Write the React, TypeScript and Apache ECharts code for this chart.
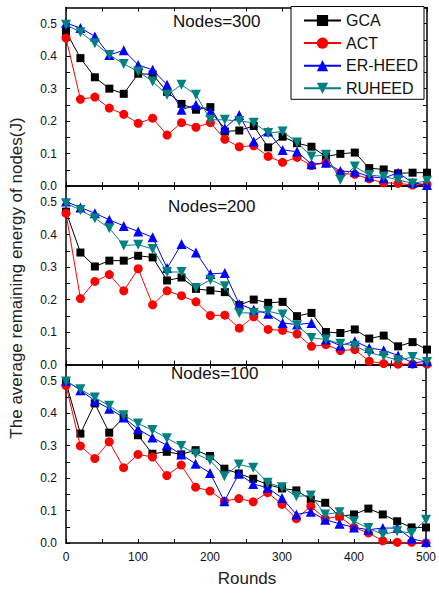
import React, { useEffect, useRef } from "react";
import * as echarts from "echarts";

// Simulation rounds (x axis)
const rounds = [0, 20, 40, 60, 80, 100, 120, 140, 160, 180, 200, 220, 240, 260, 280, 300, 320, 340, 360, 380, 400, 420, 440, 460, 480, 500];

const protocols = ["GCA", "ACT", "ER-HEED", "RUHEED"];
const panelTitles = ["Nodes=300", "Nodes=200", "Nodes=100"];

// Average remaining energy (J), Nodes=300
const gca300 = [0.476, 0.394, 0.335, 0.300, 0.284, 0.346, 0.344, 0.290, 0.253, 0.235, 0.243, 0.168, 0.171, 0.185, 0.119, 0.152, 0.132, 0.121, 0.091, 0.099, 0.103, 0.055, 0.051, 0.039, 0.041, 0.041];
const act300 = [0.456, 0.267, 0.274, 0.240, 0.221, 0.193, 0.209, 0.157, 0.195, 0.181, 0.195, 0.144, 0.121, 0.124, 0.091, 0.073, 0.088, 0.063, 0.072, 0.039, 0.036, 0.022, 0.010, 0.008, 0.003, 0.005];
const er300 = [0.502, 0.487, 0.461, 0.404, 0.418, 0.373, 0.358, 0.312, 0.235, 0.250, 0.229, 0.178, 0.219, 0.137, 0.168, 0.111, 0.106, 0.067, 0.072, 0.046, 0.044, 0.029, 0.024, 0.041, 0.010, 0.003];
const ru300 = [0.497, 0.474, 0.440, 0.404, 0.376, 0.353, 0.322, 0.281, 0.312, 0.281, 0.204, 0.204, 0.200, 0.195, 0.163, 0.168, 0.134, 0.091, 0.096, 0.019, 0.060, 0.034, 0.029, 0.019, 0.008, 0.016];

// Average remaining energy (J), Nodes=200
const gca200 = [0.471, 0.345, 0.302, 0.320, 0.320, 0.335, 0.330, 0.259, 0.268, 0.233, 0.228, 0.223, 0.183, 0.200, 0.190, 0.193, 0.149, 0.159, 0.100, 0.097, 0.108, 0.080, 0.089, 0.056, 0.069, 0.046];
const act200 = [0.466, 0.203, 0.256, 0.277, 0.227, 0.295, 0.184, 0.227, 0.212, 0.193, 0.151, 0.152, 0.112, 0.147, 0.108, 0.105, 0.094, 0.056, 0.061, 0.043, 0.046, 0.010, 0.003, 0.001, 0.001, 0.001];
const er200 = [0.502, 0.484, 0.466, 0.446, 0.427, 0.410, 0.392, 0.297, 0.371, 0.345, 0.279, 0.282, 0.186, 0.169, 0.156, 0.128, 0.123, 0.128, 0.077, 0.058, 0.072, 0.051, 0.044, 0.028, 0.005, 0.010];
const ru200 = [0.497, 0.476, 0.451, 0.420, 0.367, 0.369, 0.356, 0.285, 0.285, 0.236, 0.261, 0.241, 0.159, 0.159, 0.164, 0.154, 0.121, 0.082, 0.077, 0.064, 0.058, 0.036, 0.026, 0.013, 0.023, 0.008];

// Average remaining energy (J), Nodes=100
const gca100 = [0.495, 0.337, 0.430, 0.340, 0.387, 0.332, 0.275, 0.281, 0.273, 0.286, 0.268, 0.229, 0.214, 0.198, 0.180, 0.168, 0.162, 0.134, 0.124, 0.082, 0.088, 0.106, 0.088, 0.067, 0.048, 0.048];
const act100 = [0.485, 0.299, 0.260, 0.312, 0.232, 0.273, 0.265, 0.208, 0.240, 0.172, 0.160, 0.129, 0.137, 0.127, 0.155, 0.119, 0.075, 0.113, 0.075, 0.082, 0.048, 0.031, 0.007, 0.002, 0.002, 0.000];
const er100 = [0.500, 0.471, 0.438, 0.414, 0.387, 0.351, 0.325, 0.301, 0.273, 0.244, 0.216, 0.129, 0.213, 0.182, 0.170, 0.139, 0.088, 0.096, 0.072, 0.059, 0.048, 0.041, 0.046, 0.046, 0.013, 0.003];
const ru100 = [0.498, 0.474, 0.448, 0.423, 0.394, 0.368, 0.348, 0.323, 0.299, 0.275, 0.255, 0.206, 0.242, 0.232, 0.186, 0.172, 0.144, 0.146, 0.088, 0.095, 0.067, 0.046, 0.026, 0.036, 0.031, 0.072];

const panels = [
  [gca300, act300, er300, ru300],
  [gca200, act200, er200, ru200],
  [gca100, act100, er100, ru100],
];

const FONT = "'Liberation Sans', Arial, sans-serif";

const styles = [
  { color: "#000000", symbol: "rect", symbolSize: 8, symbolRotate: 0 },
  { color: "#ff0000", symbol: "circle", symbolSize: 9, symbolRotate: 0 },
  { color: "#0000ff", symbol: "triangle", symbolSize: 10, symbolRotate: 0 },
  { color: "#008080", symbol: "triangle", symbolSize: 10, symbolRotate: 180 },
];

const GRID_LEFT = 66;
const GRID_RIGHT = 12;
const GRID_H = 178.5;
const GRID_TOP0 = 7.5;

export default function App() {
  const ref = useRef<HTMLDivElement>(null);

  useEffect(() => {
    if (!ref.current) return;
    const chart = echarts.init(ref.current, undefined, { renderer: "svg" });

    const axisLine = { show: true, onZero: false, lineStyle: { color: "#000", width: 1.5 } };
    const tick = { show: true, inside: true, length: 4, lineStyle: { color: "#000", width: 1 } };

    const grids: any[] = [];
    const xAxes: any[] = [];
    const yAxes: any[] = [];
    const series: any[] = [];

    panels.forEach((panel, p) => {
      grids.push({
        left: GRID_LEFT,
        right: GRID_RIGHT,
        top: GRID_TOP0 + p * GRID_H,
        height: GRID_H,
        containLabel: false,
      });
      const isBottom = p === panels.length - 1;
      // bottom x axis
      xAxes.push({
        type: "value",
        gridIndex: p,
        min: 0,
        max: 500,
        interval: 50,
        position: "bottom",
        axisLine,
        axisTick: tick,
        splitLine: { show: false },
        axisLabel: {
          show: isBottom,
          margin: 8,
          color: "#111",
          fontSize: 12,
          fontFamily: FONT,
          formatter: (v: number) => (Math.round(v) % 100 === 0 ? String(Math.round(v)) : ""),
        },
      });
      // top x axis (frame with ticks)
      xAxes.push({
        type: "value",
        gridIndex: p,
        min: 0,
        max: 500,
        interval: 50,
        position: "top",
        axisLine,
        axisTick: tick,
        splitLine: { show: false },
        axisLabel: { show: false },
      });
      // left y axis
      yAxes.push({
        type: "value",
        gridIndex: p,
        min: 0,
        max: 0.55,
        interval: 0.05,
        position: "left",
        axisLine,
        axisTick: tick,
        splitLine: { show: false },
        axisLabel: {
          margin: 9,
          color: "#111",
          fontSize: 12,
          fontFamily: FONT,
          showMaxLabel: false,
          formatter: (v: number) => {
            const c = Math.round(v * 100);
            return c % 10 === 0 && c <= 50 ? (c / 100).toFixed(1) : "";
          },
        },
      });
      // right y axis (frame with ticks)
      yAxes.push({
        type: "value",
        gridIndex: p,
        min: 0,
        max: 0.55,
        interval: 0.05,
        position: "right",
        axisLine,
        axisTick: tick,
        splitLine: { show: false },
        axisLabel: { show: false },
      });

      panel.forEach((values, s) => {
        const st = styles[s];
        series.push({
          name: protocols[s],
          type: "line",
          xAxisIndex: p * 2,
          yAxisIndex: p * 2,
          data: rounds.map((r, i) => [r, values[i]]),
          symbol: st.symbol,
          symbolSize: st.symbolSize,
          symbolRotate: st.symbolRotate,
          showAllSymbol: true,
          clip: false,
          z: 2 + s,
          itemStyle: { color: st.color, borderWidth: 0 },
          lineStyle: { color: st.color, width: 1 },
        });
      });
    });

    const panelLabelPos = [
      { x: 173, y: 22 },
      { x: 168, y: 207 },
      { x: 171, y: 374 },
    ];

    chart.setOption({
      animation: false,
      backgroundColor: "#ffffff",
      grid: grids,
      xAxis: xAxes,
      yAxis: yAxes,
      series,
      legend: {
        data: protocols,
        orient: "vertical",
        left: 291,
        top: 6.5,
        itemWidth: 37,
        itemHeight: 14,
        itemGap: 6.6,
        padding: [6, 6, 3, 12],
        selectedMode: false,
        backgroundColor: "#ffffff",
        borderColor: "#000",
        borderWidth: 1,
        z: 10,
        textStyle: { fontSize: 16, color: "#111", fontFamily: FONT },
      },
      graphic: [
        ...panelTitles.map((t, i) => ({
          type: "text",
          left: panelLabelPos[i].x,
          top: panelLabelPos[i].y - 9,
          z: 20,
          style: { text: t, fontSize: 17, fontFamily: FONT, fill: "#111" },
        })),
        {
          type: "text",
          x: 16,
          y: 278,
          rotation: Math.PI / 2,
          style: {
            text: "The average remaining energy of nodes(J)",
            fontSize: 17,
            fontFamily: FONT,
            fill: "#222",
            align: "center",
            verticalAlign: "middle",
          },
        },
        {
          type: "text",
          x: 247,
          y: 578,
          style: {
            text: "Rounds",
            fontSize: 17,
            fontFamily: FONT,
            fill: "#222",
            align: "center",
            verticalAlign: "middle",
          },
        },
      ],
    });

    return () => chart.dispose();
  }, []);

  return (
    <div
      ref={ref}
      style={{ position: "fixed", left: 0, top: 0, width: 439, height: 593, background: "#fff" }}
    />
  );
}
